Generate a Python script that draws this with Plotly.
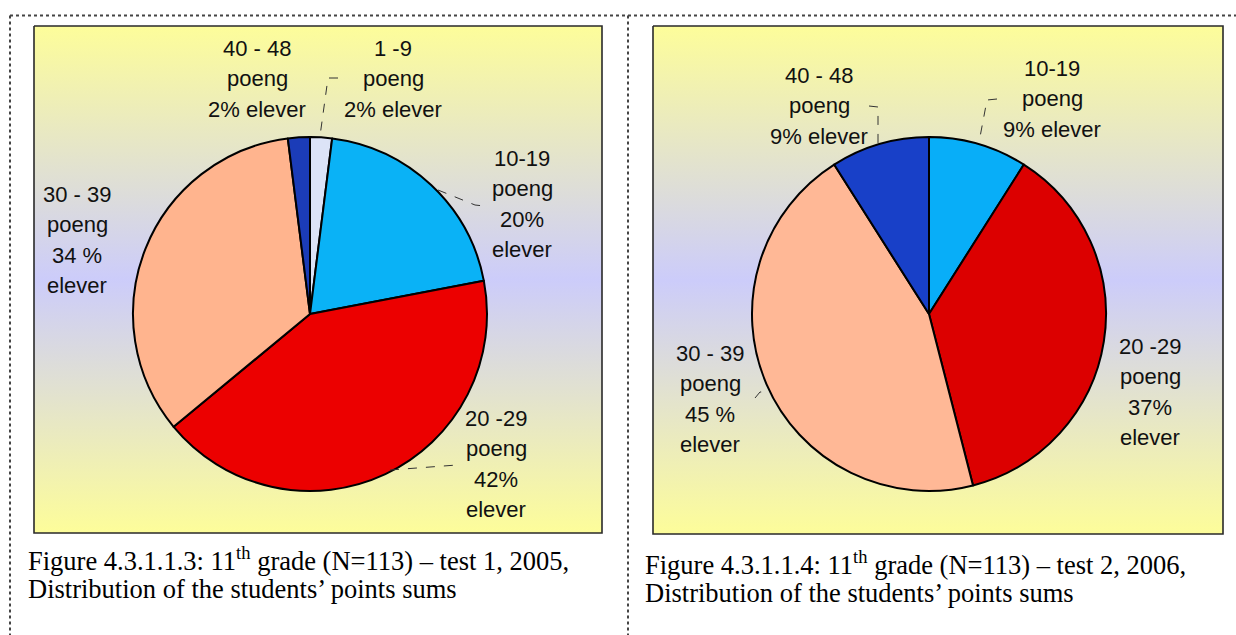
import plotly.graph_objects as go

# data
groups_2005 = ["1 -9", "10-19", "20 -29", "30 - 39", "40 - 48"]
pct_2005 = [2, 20, 42, 34, 2]
labels_2005 = [
    ["1 -9", "poeng", "2% elever"],
    ["10-19", "poeng", "20%", "elever"],
    ["20 -29", "poeng", "42%", "elever"],
    ["30 - 39", "poeng", "34 %", "elever"],
    ["40 - 48", "poeng", "2% elever"],
]
colors_2005 = ["#dce3f7", "#0ab2f6", "#ec0000", "#ffb48e", "#1b3cb8"]

groups_2006 = ["10-19", "20 -29", "30 - 39", "40 - 48"]
pct_2006 = [9, 37, 45, 9]
labels_2006 = [
    ["10-19", "poeng", "9% elever"],
    ["20 -29", "poeng", "37%", "elever"],
    ["30 - 39", "poeng", "45 %", "elever"],
    ["40 - 48", "poeng", "9% elever"],
]
colors_2006 = ["#08aef8", "#dc0000", "#ffb896", "#1840c8"]

captions = [
    ["Figure 4.3.1.1.3: 11<sup>th</sup> grade (N=113) – test 1, 2005,",
     "Distribution of the students’ points sums"],
    ["Figure 4.3.1.1.4: 11<sup>th</sup> grade (N=113) – test 2, 2006,",
     "Distribution of the students’ points sums"],
]

W, H = 1236, 635
SANS = "Liberation Sans, Arial, sans-serif"
SERIF = "Liberation Serif, Times New Roman, serif"

fig = go.Figure()

# gradient backgrounds of the two chart areas (yellow -> lavender -> yellow)
for x0, x1, y0, y1 in [(34, 602, 26, 533), (653, 1223, 26, 534)]:
    fig.add_trace(go.Scatter(
        x=[x0, x1, x1, x0, x0], y=[y0, y0, y1, y1, y0],
        mode="lines", fill="toself",
        line=dict(color="#2a2a2a", width=1.6),
        fillgradient=dict(type="vertical",
                          colorscale=[[0, "#fdfd9a"], [0.5, "#ccccfa"], [1, "#fdfd9a"]]),
        hoverinfo="skip", showlegend=False,
    ))


def pie_domain(cx, cy, r):
    return dict(x=[(cx - r) / W, (cx + r) / W], y=[1 - (cy + r) / H, 1 - (cy - r) / H])


fig.add_trace(go.Pie(
    labels=groups_2005, values=pct_2005, sort=False, direction="clockwise", rotation=0,
    marker=dict(colors=colors_2005, line=dict(color="black", width=2)),
    textinfo="none", domain=pie_domain(310, 314, 177), showlegend=False,
    hovertemplate="%{label} poeng: %{value}% elever<extra></extra>",
))
fig.add_trace(go.Pie(
    labels=groups_2006, values=pct_2006, sort=False, direction="clockwise", rotation=0,
    marker=dict(colors=colors_2006, line=dict(color="black", width=2)),
    textinfo="none", domain=pie_domain(929, 314, 177), showlegend=False,
    hovertemplate="%{label} poeng: %{value}% elever<extra></extra>",
))

# label anchors (centre x, first line y), same order as the slices
pos_2005 = [(393, 48), (522, 158), (496, 418), (77, 194), (257, 48)]
pos_2006 = [(1052, 68), (1150, 346), (710, 353), (819, 75)]

annotations = []
for lines_list, positions in [(labels_2005, pos_2005), (labels_2006, pos_2006)]:
    for lines, (cx, cy) in zip(lines_list, positions):
        for i, line in enumerate(lines):
            annotations.append(dict(
                x=cx, y=cy + 30.5 * i, xref="x", yref="y", text=line, showarrow=False,
                xanchor="center", yanchor="middle",
                font=dict(family=SANS, size=22, color="#111111"),
            ))

for cap, (cx, cy) in zip(captions, [(26, 559), (643, 563)]):
    for i, line in enumerate(cap):
        annotations.append(dict(
            x=cx, y=cy + 30 * i, xref="x", yref="y", text=line, showarrow=False,
            xanchor="left", yanchor="middle", align="left",
            font=dict(family=SERIF, size=26.5, color="black"),
        ))

# dashed leader lines
leaders = [
    "M 338,78 L 328,78 L 320,136",
    "M 438,190 L 475,205 L 484,206",
    "M 390,470 L 457,465",
    "M 869,106 L 878,107 L 878,145",
    "M 997,99 L 987,100 L 980,137",
    "M 755,398 L 760,392 L 766,392",
]
shapes = [dict(type="path", path=p, xref="x", yref="y",
               line=dict(color="#333333", width=1, dash="dash"), layer="above")
          for p in leaders]

# dotted table borders
for x0, y0, x1, y1 in [(10, 15.5, 1236, 15.5), (10, 15.5, 10, 635), (628, 15.5, 628, 635)]:
    shapes.append(dict(type="line", x0=x0, y0=y0, x1=x1, y1=y1, xref="x", yref="y",
                       line=dict(color="#444444", width=2, dash="dot"), layer="below"))

fig.update_layout(
    width=W, height=H,
    margin=dict(l=0, r=0, t=0, b=0),
    paper_bgcolor="white", plot_bgcolor="rgba(0,0,0,0)",
    xaxis=dict(range=[0, W], visible=False, fixedrange=True),
    yaxis=dict(range=[H, 0], visible=False, fixedrange=True),
    annotations=annotations, shapes=shapes,
)

fig.write_html("out.html", config={"displayModeBar": False},
               post_script="document.body.style.margin = '0';")
